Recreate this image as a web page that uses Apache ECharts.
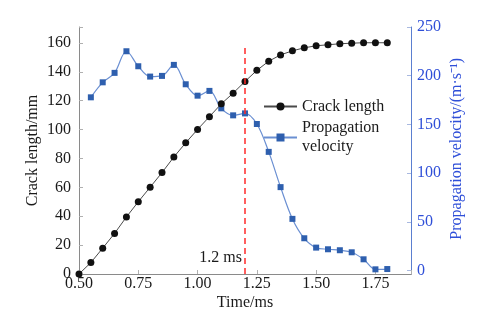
<!DOCTYPE html>
<html>
<head>
<meta charset="utf-8">
<script src="https://cdn.jsdelivr.net/npm/echarts@6/dist/echarts.min.js"></script>
<style>
  html, body { margin: 0; padding: 0; background: #fff; }
  #chart { width: 497px; height: 322px; }
</style>
</head>
<body>
<div id="chart"></div>
<script>
// Sampling times (ms)
const times = [0.50, 0.55, 0.60, 0.65, 0.70, 0.75, 0.80, 0.85, 0.90, 0.95, 1.00, 1.05, 1.10,
               1.15, 1.20, 1.25, 1.30, 1.35, 1.40, 1.45, 1.50, 1.55, 1.60, 1.65, 1.70, 1.75, 1.80];
// Crack length (mm) at each time
const crackLength = [0, 7.9, 17.9, 28.1, 39.5, 50, 60.1, 70.2, 81, 90.8, 100.1, 108.9, 117.8,
                     125.2, 133.3, 141, 147.3, 151.7, 154.5, 156.6, 158, 158.7, 159.4, 159.8, 160.1, 160.1, 160.1];
// Propagation velocity (m/s), starting from the second sample
const velocityTimes = times.slice(1);
const velocity = [177.8, 193.2, 202.9, 225.1, 209.7, 199.1, 199.8, 211.1, 191.2, 179.5, 184.4, 166.5,
                  159.3, 161.3, 150.4, 121.8, 85.6, 53, 33.1, 23.5, 21.8, 20.8, 18.7, 11.5, 1.2, 1.5];
// Marked instant
const markTime = 1.2;
const markLabel = '1.2 ms';

const FONT = 'Liberation Serif';
const TEXT = '#1a1a1a';
const BLUE_TEXT = '#2f4fd8';
const FRAME = '#8a8a8a';

const chart = echarts.init(document.getElementById('chart'), null, { renderer: 'canvas' });

const isStep = (v, step) => Math.abs(v / step - Math.round(v / step)) < 1e-6;

chart.setOption({
  animation: false,
  textStyle: { fontFamily: FONT },
  grid: [
    { left: 79, right: 86, top: 27, bottom: 48 },
    { left: 79, right: 86, top: 27, bottom: 51.5 }
  ],
  legend: {
    left: 263, top: 97, padding: 0,
    orient: 'vertical',
    itemWidth: 33, itemHeight: 10, itemGap: -7,
    textStyle: { fontFamily: FONT, fontSize: 16, color: TEXT, lineHeight: 19 },
    formatter: name => name === 'Propagation velocity' ? 'Propagation\nvelocity' : name,
    data: [
      { name: 'Crack length' },
      { name: 'Propagation velocity', textStyle: { padding: [19, 0, 0, 0] } }
    ]
  },
  xAxis: [
    {
      gridIndex: 0, type: 'value', position: 'bottom',
      min: 0.5, max: 1.9, interval: 0.25,
      name: 'Time/ms', nameLocation: 'middle', nameGap: 21, nameMoveOverlap: false,
      nameTextStyle: { fontFamily: FONT, fontSize: 16, color: TEXT },
      axisLine: { lineStyle: { color: FRAME, width: 1 } },
      axisTick: { inside: true, length: 4, lineStyle: { color: '#b0b0b0' } },
      axisLabel: {
        margin: 2, fontFamily: FONT, fontSize: 16, color: TEXT,
        formatter: v => isStep(v, 0.25) ? v.toFixed(2) : ''
      },
      splitLine: { show: false }
    },
    {
      gridIndex: 0, type: 'value', position: 'top',
      min: 0.5, max: 1.9,
      axisLine: { show: true, lineStyle: { color: FRAME, width: 1 } },
      axisTick: { show: false }, axisLabel: { show: false }, splitLine: { show: false }
    },
    {
      gridIndex: 1, type: 'value', show: false,
      min: 0.5, max: 1.9
    }
  ],
  yAxis: [
    {
      gridIndex: 0, type: 'value', position: 'left',
      min: 0, max: 171, interval: 20,
      name: 'Crack length/mm', nameLocation: 'middle', nameGap: 38, nameMoveOverlap: false,
      nameTextStyle: { fontFamily: FONT, fontSize: 16, color: TEXT },
      axisLine: { show: true, lineStyle: { color: FRAME, width: 1 } },
      axisTick: { show: true, inside: true, length: 4, lineStyle: { color: '#b0b0b0' } },
      axisLabel: {
        margin: 8, fontFamily: FONT, fontSize: 16, color: TEXT,
        formatter: v => isStep(v, 20) ? String(v) : ''
      },
      splitLine: { show: false }
    },
    {
      gridIndex: 0, type: 'value', position: 'right',
      min: 0, max: 1,
      axisLine: { show: true, lineStyle: { color: '#5b7fd0', width: 1 } },
      axisTick: { show: false }, axisLabel: { show: false }, splitLine: { show: false }
    },
    {
      gridIndex: 1, type: 'value', position: 'right',
      min: 0, max: 250, interval: 50,
      name: 'Propagation velocity/(m·s⁻¹)', nameLocation: 'middle', nameGap: 38,
      nameMoveOverlap: false, nameRotate: 90,
      nameTextStyle: { fontFamily: FONT, fontSize: 16, color: BLUE_TEXT },
      axisLine: { show: false },
      axisTick: { show: true, inside: true, length: 4, lineStyle: { color: '#a9b9e0' } },
      axisLabel: { margin: 6, fontFamily: FONT, fontSize: 16, color: BLUE_TEXT },
      splitLine: { show: false }
    }
  ],
  series: [
    {
      name: 'Crack length',
      type: 'line',
      xAxisIndex: 0, yAxisIndex: 0,
      data: times.map((t, i) => [t, crackLength[i]]),
      symbol: 'circle', symbolSize: 7,
      lineStyle: { color: '#4a4a4a', width: 1 },
      itemStyle: { color: '#111111', borderWidth: 0 },
      z: 3,
      markLine: {
        silent: true, symbol: 'none',
        label: { show: false },
        lineStyle: { color: '#ff2a2a', type: [6, 4], width: 1.5 },
        data: [[{ coord: [markTime, 0] }, { coord: [markTime, 159] }]]
      },
      markPoint: {
        silent: true, symbol: 'circle', symbolSize: 0,
        label: {
          show: true, position: 'left', distance: 3,
          formatter: markLabel, fontFamily: FONT, fontSize: 16, color: TEXT
        },
        data: [{ coord: [markTime, 11.3] }]
      }
    },
    {
      name: 'Propagation velocity',
      type: 'line',
      xAxisIndex: 2, yAxisIndex: 2,
      data: velocityTimes.map((t, i) => [t, velocity[i]]),
      smooth: 0.35,
      symbol: 'rect', symbolSize: 6,
      lineStyle: { color: '#6a8fd2', width: 1.2 },
      itemStyle: { color: '#2e5fae', borderWidth: 0 },
      z: 2
    }
  ]
});
</script>
</body>
</html>
